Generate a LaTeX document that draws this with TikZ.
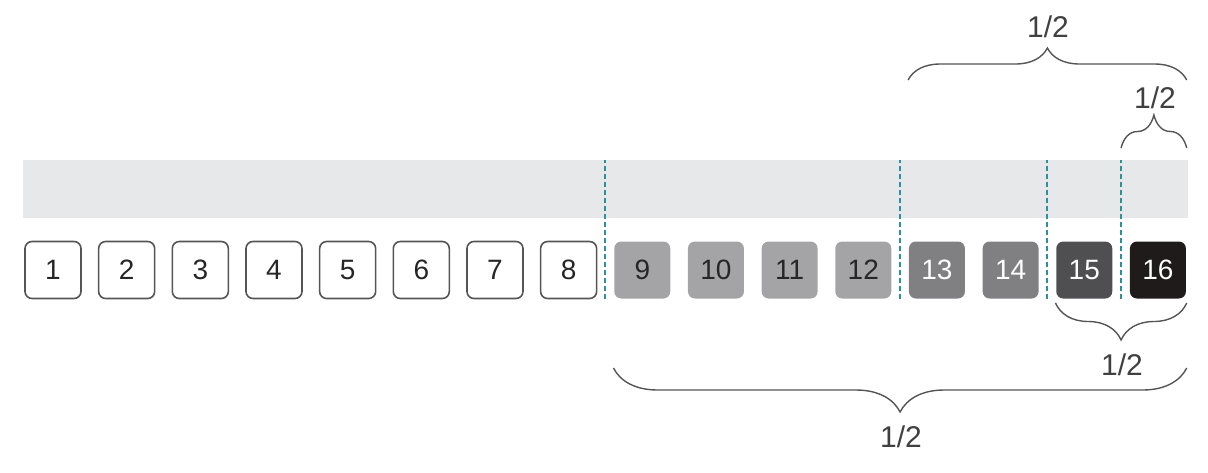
\documentclass[tikz,border=0pt]{standalone}
\usepackage{fontspec}
\setmainfont{Liberation Sans}
\usetikzlibrary{positioning,calc,decorations.pathreplacing}

\definecolor{bandgray}{HTML}{E6E8EA}
\definecolor{edgegray}{HTML}{555555}
\definecolor{tealcut}{HTML}{2F8F9F}
\definecolor{lvlone}{HTML}{A4A4A6}
\definecolor{lvltwo}{HTML}{808082}
\definecolor{lvlthree}{HTML}{4F4F51}
\definecolor{lvlfour}{HTML}{1F1B1B}

\tikzset{
  box/.style={draw=edgegray, line width=0.8pt, rounded corners=3.5pt, fill=white,
    minimum width=28pt, minimum height=28.5pt, inner sep=0pt, text=black!85,
    font=\fontsize{14}{16}\selectfont},
  shade1/.style={box, draw=none, fill=lvlone},
  shade2/.style={box, draw=none, fill=lvltwo, text=white},
  shade3/.style={box, draw=none, fill=lvlthree, text=white},
  shade4/.style={box, draw=none, fill=lvlfour, text=white},
  cut/.style={tealcut, line width=1pt, dash pattern=on 2.5pt off 1.5pt},
  brace/.style={decorate, decoration={brace, amplitude=#1}, edgegray, line width=0.7pt},
  brace/.default=16pt,
  half/.style={font=\fontsize{15}{17}\selectfont, text=black!75, inner sep=0pt}
}

\begin{document}
\begin{tikzpicture}[x=0.5pt,y=-0.5pt,node distance=36.83pt,on grid]
   \useasboundingbox (0,0) rectangle (1208,472);
   \node[fill=bandgray, minimum width=582.5pt, minimum height=29pt, inner sep=0pt] (band) at (605.5,189) {};

   \node[box] (b1) at (53,270) {1};
   \node[box] (b2) [right=of b1] {2};
   \node[box] (b3) [right=of b2] {3};
   \node[box] (b4) [right=of b3] {4};
   \node[box] (b5) [right=of b4] {5};
   \node[box] (b6) [right=of b5] {6};
   \node[box] (b7) [right=of b6] {7};
   \node[box] (b8) [right=of b7] {8};
   \node[shade1] (b9) [right=of b8] {9};
   \node[shade1] (b10) [right=of b9] {10};
   \node[shade1] (b11) [right=of b10] {11};
   \node[shade1] (b12) [right=of b11] {12};
   \node[shade2] (b13) [right=of b12] {13};
   \node[shade2] (b14) [right=of b13] {14};
   \node[shade3] (b15) [right=of b14] {15};
   \node[shade4] (b16) [right=of b15] {16};

   % dashed cuts
   \coordinate (d1) at ($(b8.south east)!0.5!(b9.south west)$);
   \coordinate (d2) at ($(b12.south east)!0.5!(b13.south west)$);
   \coordinate (d3) at ($(b14.south east)!0.5!(b15.south west)$);
   \coordinate (d4) at ($(b15.south east)!0.5!(b16.south west)$);
   \draw[cut] (d1) -- (d1 |- band.north);
   \draw[cut] (d2) -- (d2 |- band.north);
   \draw[cut] (d3) -- (d3 |- band.north);
   \draw[cut] (d4) -- (d4 |- band.north);

   % braces
   \coordinate (rowa) at (0,80);
   \coordinate (rowb) at (0,148);
   \coordinate (rowc) at (0,303);
   \coordinate (rowd) at (0,368);
   \draw[brace=16pt] (b13.west |- rowa) -- (b16.east |- rowa);
   \draw[brace=16.5pt] (d4 |- rowb) -- (b16.east |- rowb);
   \draw[brace=18.5pt] (b16.east |- rowc) -- (b15.west |- rowc);
   \draw[brace=22pt] (b16.east |- rowd) -- (b9.west |- rowd);

   \node[half] (h1) at (1048,27) {1/2};
   \node[half] (h2) at (1155,98) {1/2};
   \node[half] (h3) at (1122,365) {1/2};
   \node[half] (h4) at (901,437) {1/2};
\end{tikzpicture}
\end{document}
